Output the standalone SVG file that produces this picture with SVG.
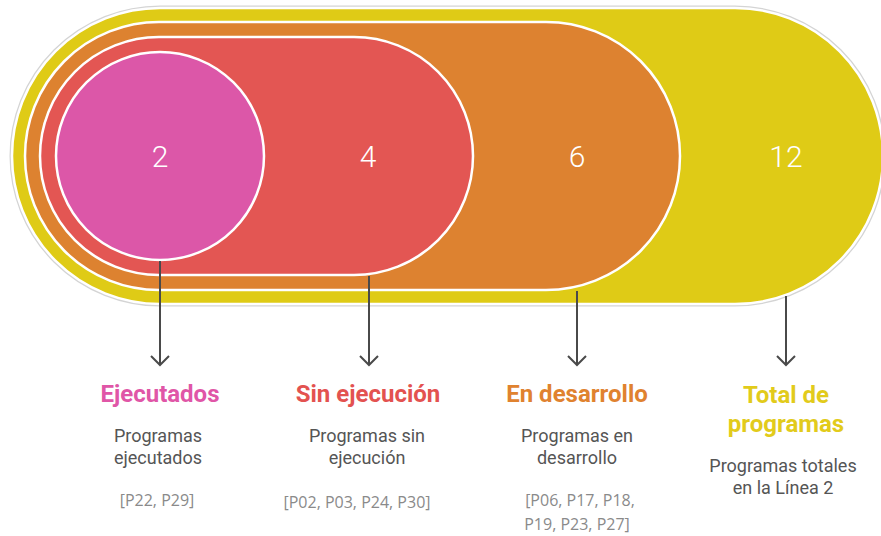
<svg xmlns="http://www.w3.org/2000/svg" width="881" height="536" viewBox="0 0 881 536">
  <defs>
    <style>
      .num { font-family: Roboto, "Liberation Sans", sans-serif; font-weight: 300; font-size: 30px; fill: #ffffff; text-anchor: middle; }
      .title { font-family: Roboto, "Liberation Sans", sans-serif; font-weight: 700; font-size: 24px; text-anchor: middle; }
      .desc { font-family: Roboto, "Liberation Sans", sans-serif; font-size: 18px; fill: #555555; text-anchor: middle; }
      .ids { font-family: "Open Sans", "Liberation Sans", sans-serif; font-size: 16px; fill: #8a8a8a; text-anchor: middle; }
      .edge { stroke: #4a4a4a; stroke-width: 2; fill: none; marker-end: url(#chev); }
      .shape { stroke: #ffffff; stroke-width: 2.5; }
    </style>
    <marker id="chev" markerUnits="userSpaceOnUse" viewBox="0 0 20 20" refX="10" refY="10" markerWidth="20" markerHeight="20" orient="auto">
      <path d="M1,1 L10,10 L1,19" fill="none" stroke="#4a4a4a" stroke-width="2"/>
    </marker>
  </defs>

  <g id="total">
    <path d="M160,8 L735,8 A148,148 0 0 1 735,304 L160,304 A148,148 0 0 1 160,8 Z" fill="none" stroke="#d4d4d4" stroke-width="5"/>
    <path class="shape" d="M160,8 L735,8 A148,148 0 0 1 735,304 L160,304 A148,148 0 0 1 160,8 Z" fill="#DFCB16"/>
    <text class="num" x="786" y="167">12</text>
  </g>
  <g id="desarrollo">
    <path class="shape" d="M159,22 L546,22 A134,134 0 0 1 546,290 L159,290 A134,134 0 0 1 159,22 Z" fill="#DD8230"/>
    <text class="num" x="577" y="167">6</text>
  </g>
  <g id="sin-ejecucion">
    <path class="shape" d="M159,37 L354,37 A119,119 0 0 1 354,275 L159,275 A119,119 0 0 1 159,37 Z" fill="#E35653"/>
    <text class="num" x="368" y="167">4</text>
  </g>
  <g id="ejecutados">
    <circle class="shape" cx="160" cy="156" r="104" fill="#DC57A8"/>
    <text class="num" x="160" y="167">2</text>
  </g>

  <g id="connectors">
    <line class="edge" x1="160" y1="261" x2="160" y2="365"/>
    <line class="edge" x1="369" y1="276" x2="369" y2="365"/>
    <line class="edge" x1="577" y1="291" x2="577" y2="365"/>
    <line class="edge" x1="786" y1="296" x2="786" y2="365"/>
  </g>

  <g id="label-ejecutados">
    <text class="title" x="160" y="402" fill="#E056A7">Ejecutados</text>
    <text class="desc" x="158" y="442">Programas</text>
    <text class="desc" x="158" y="464">ejecutados</text>
    <text class="ids" x="157" y="506">[P22, P29]</text>
  </g>
  <g id="label-sin-ejecucion">
    <text class="title" x="368" y="402" fill="#E35250">Sin ejecución</text>
    <text class="desc" x="367" y="442">Programas sin</text>
    <text class="desc" x="367" y="464">ejecución</text>
    <text class="ids" x="357" y="508">[P02, P03, P24, P30]</text>
  </g>
  <g id="label-desarrollo">
    <text class="title" x="577" y="402" fill="#E0822F">En desarrollo</text>
    <text class="desc" x="577" y="442">Programas en</text>
    <text class="desc" x="577" y="464">desarrollo</text>
    <text class="ids" x="580" y="506">[P06, P17, P18,</text>
    <text class="ids" x="577" y="530">P19, P23, P27]</text>
  </g>
  <g id="label-total">
    <text class="title" x="786" y="403" fill="#E2CB1B">Total de</text>
    <text class="title" x="786" y="432" fill="#E2CB1B">programas</text>
    <text class="desc" x="783" y="472">Programas totales</text>
    <text class="desc" x="783" y="494">en la Línea 2</text>
  </g>
</svg>
